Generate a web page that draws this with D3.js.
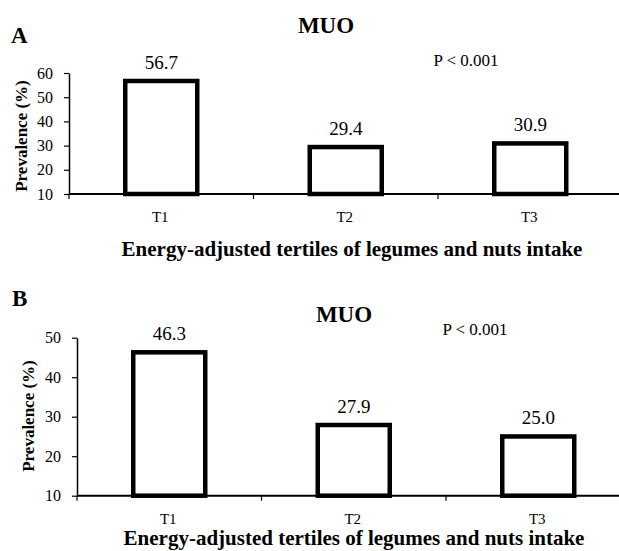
<!DOCTYPE html>
<html>
<head>
<meta charset="utf-8">
<script src="https://cdn.jsdelivr.net/npm/d3@7"></script>
<style>
  body { margin: 0; background: #fff; }
  svg { display: block; font-family: "Liberation Serif", "Times New Roman", serif; }
</style>
</head>
<body>
<svg id="chart" width="619" height="551"></svg>
<script>
// data
var categories = ["T1", "T2", "T3"];
var valuesA = [56.7, 29.4, 30.9];
var valuesB = [46.3, 27.9, 25.0];
var ticksA = [10, 20, 30, 40, 50, 60];
var ticksB = [10, 20, 30, 40, 50];
var panelLabels = ["A", "B"];
var titleText = "MUO";
var pText = "P < 0.001";
var xTitle = "Energy-adjusted tertiles of legumes and nuts intake";
var yTitle = "Prevalence (%)";

var svg = d3.select("#chart");
svg.append("rect").attr("width", 619).attr("height", 551).attr("fill", "#fff");

var fmt = d3.format(".1f");

var drawPanel = function(cfg){
  var g = svg.append("g");

  var x = d3.scaleBand().domain(categories).range([cfg.left, cfg.left + 3 * 184.5]);
  var y = d3.scaleLinear().domain([cfg.ticks[0], cfg.ticks[cfg.ticks.length - 1]])
            .range([cfg.bottom, cfg.top]);
  var barW = 72;

  // bars
  g.selectAll("rect.bar")
    .data(cfg.values)
    .enter()
    .append("rect")
    .attr("class", "bar")
    .attr("x", function(d, i){ return x(categories[i]) + (x.bandwidth() - barW) / 2; })
    .attr("y", function(d){ return y(d); })
    .attr("width", barW)
    .attr("height", function(d){ return y(cfg.ticks[0]) - y(d); })
    .attr("fill", "#fff")
    .attr("stroke", "#000")
    .attr("stroke-width", 4.5);

  // value labels
  g.selectAll("text.val")
    .data(cfg.values)
    .enter()
    .append("text")
    .attr("class", "val")
    .attr("x", function(d, i){ return x(categories[i]) + x.bandwidth() / 2; })
    .attr("y", function(d){ return y(d) - 12; })
    .attr("text-anchor", "middle")
    .attr("font-size", "19px")
    .text(function(d){ return fmt(d); });

  // y axis
  var yAxis = d3.axisLeft(y).tickValues(cfg.ticks).tickSize(5).tickSizeOuter(0).tickPadding(11);
  var ya = g.append("g").attr("transform", "translate(" + cfg.left + ",0)").call(yAxis);
  ya.select(".domain").attr("stroke-width", 1.5);
  ya.selectAll(".tick line").attr("stroke-width", 1.2);
  ya.selectAll("text").attr("font-size", "16px").attr("font-family", "Liberation Serif").attr("fill", "#000");

  // x axis line and boundary ticks
  var x0 = x.range()[0], x1 = x.range()[1];
  g.append("line")
    .attr("x1", x0).attr("x2", x1)
    .attr("y1", y(cfg.ticks[0])).attr("y2", y(cfg.ticks[0]))
    .attr("stroke", "#000").attr("stroke-width", 2);
  var bounds = categories.map(function(c){ return x(c); });
  g.selectAll("line.xt")
    .data(bounds)
    .enter()
    .append("line")
    .attr("class", "xt")
    .attr("x1", function(d){ return d; }).attr("x2", function(d){ return d; })
    .attr("y1", y(cfg.ticks[0])).attr("y2", y(cfg.ticks[0]) + 5)
    .attr("stroke", "#000").attr("stroke-width", 1.2);

  // category labels
  g.selectAll("text.cat")
    .data(categories)
    .enter()
    .append("text")
    .attr("class", "cat")
    .attr("x", function(d){ return x(d) + x.bandwidth() / 2 - 1; })
    .attr("y", y(cfg.ticks[0]) + 28)
    .attr("text-anchor", "middle")
    .attr("font-size", "15px")
    .text(function(d){ return d; });

  // titles
  g.append("text")
    .attr("x", cfg.xTitleX).attr("y", cfg.xTitleY)
    .attr("text-anchor", "middle")
    .attr("font-size", "21px").attr("font-weight", "bold")
    .text(xTitle);

  g.append("text")
    .attr("transform", "translate(" + cfg.yTitleX + "," + cfg.yTitleY + ") rotate(-90)")
    .attr("text-anchor", "middle")
    .attr("font-size", "17px").attr("font-weight", "bold")
    .text(yTitle);

  g.append("text")
    .attr("x", cfg.titleX).attr("y", cfg.titleY)
    .attr("text-anchor", "middle")
    .attr("font-size", "23px").attr("font-weight", "bold")
    .text(titleText);

  g.append("text")
    .attr("x", cfg.pX).attr("y", cfg.pY)
    .attr("text-anchor", "middle")
    .attr("font-size", "17px")
    .text(pText);

  g.append("text")
    .attr("x", cfg.labelX).attr("y", cfg.labelY)
    .attr("font-size", "23px").attr("font-weight", "bold")
    .text(cfg.label);
};

drawPanel({
  values: valuesA, ticks: ticksA, label: panelLabels[0],
  left: 69, top: 73, bottom: 194,
  xTitleX: 352, xTitleY: 256,
  yTitleX: 27, yTitleY: 136,
  titleX: 326, titleY: 33,
  pX: 466, pY: 66,
  labelX: 11, labelY: 43
});

drawPanel({
  values: valuesB, ticks: ticksB, label: panelLabels[1],
  left: 77, top: 337.7, bottom: 495.7,
  xTitleX: 354, xTitleY: 545,
  yTitleX: 34, yTitleY: 416,
  titleX: 344, titleY: 322,
  pX: 475, pY: 335,
  labelX: 12, labelY: 306
});
</script>
</body>
</html>
